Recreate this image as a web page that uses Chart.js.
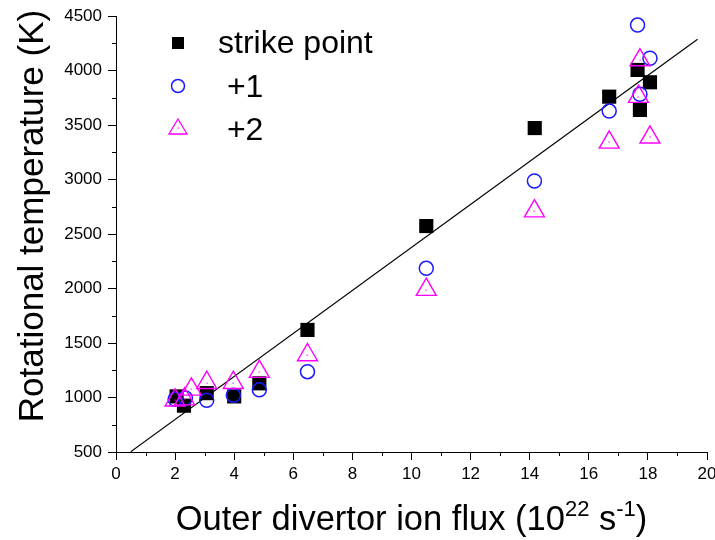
<!DOCTYPE html>
<html>
<head>
<meta charset="utf-8">
<script src="https://cdn.jsdelivr.net/npm/chart.js@4/dist/chart.umd.min.js"></script>
<style>
  html, body { margin: 0; padding: 0; background: #fff; }
  #wrap { width: 715px; height: 540px; }
</style>
</head>
<body>
<div id="wrap"><canvas id="fluxChart" width="715" height="540"></canvas></div>
<script>
// flux (10^22 s^-1) vs rotational temperature (K)
const strikeX = [2.05, 2.3, 3.07, 4.0, 4.85, 6.48, 10.5, 14.17, 16.69, 17.65, 17.73, 18.07];
const strikeY = [1010, 925, 1040, 1010, 1130, 1620, 2573, 3472, 3760, 4005, 3638, 3892];

const plus1X = [2.0, 2.35, 3.07, 3.97, 4.85, 6.48, 10.5, 14.16, 16.69, 17.65, 17.73, 18.07];
const plus1Y = [983, 995, 975, 1020, 1070, 1237, 2185, 2986, 3628, 4417, 3782, 4112];

const plus2X = [2.0, 2.32, 2.55, 3.07, 3.97, 4.85, 6.48, 10.5, 14.16, 16.69, 17.68, 17.73, 18.07];
const plus2Y = [975, 985, 1075, 1136, 1136, 1237, 1390, 1990, 2710, 3341, 3760, 4096, 3387];

// linear fit, end points
const fitX = [0.5, 19.68];
const fitY = [503, 4286];

const xTicks = [0, 2, 4, 6, 8, 10, 12, 14, 16, 18, 20];
const yTicks = [500, 1000, 1500, 2000, 2500, 3000, 3500, 4000, 4500];

const FONT = '"Liberation Sans", Arial, sans-serif';
const BLUE = '#1a1aff';
const MAGENTA = '#ff00ff';

const pts = (xs, ys) => xs.map((x, i) => ({ x: x, y: ys[i] }));

// minor ticks, axis titles, legend, triangle centre dots
const extras = {
    id: 'extras',
    afterDatasetsDraw(chart) {
        const ctx = chart.ctx;
        const meta = chart.getDatasetMeta(0);
        ctx.save();
        ctx.fillStyle = MAGENTA;
        meta.data.forEach(p => ctx.fillRect(Math.round(p.x) - 0.5, Math.round(p.y) - 0.5, 1.2, 1.2));
        ctx.restore();
    },
    afterDraw(chart) {
        const ctx = chart.ctx;
        const xs = chart.scales.x, ys = chart.scales.y;
        const area = chart.chartArea;
        ctx.save();
        ctx.strokeStyle = '#000';
        ctx.lineWidth = 1;
        ctx.beginPath();
        for (let v = 1; v < 20; v += 2) {
            const px = Math.round(xs.getPixelForValue(v)) + 0.5;
            ctx.moveTo(px, area.bottom);
            ctx.lineTo(px, area.bottom + 4);
        }
        for (let v = 750; v < 4500; v += 500) {
            const py = Math.round(ys.getPixelForValue(v)) + 0.5;
            ctx.moveTo(area.left, py);
            ctx.lineTo(area.left - 4, py);
        }
        ctx.stroke();

        ctx.fillStyle = '#000';

        // y title
        ctx.save();
        ctx.translate(43, 216);
        ctx.rotate(-Math.PI / 2);
        ctx.font = '35px ' + FONT;
        ctx.textAlign = 'center';
        ctx.textBaseline = 'alphabetic';
        ctx.fillText('Rotational temperature (K)', 0, 0);
        ctx.restore();

        // x title with superscripts
        const big = '34.5px ' + FONT, small = '22px ' + FONT;
        const parts = [
            ['Outer divertor ion flux (10', big, 0],
            ['22', small, -14],
            [' s', big, 0],
            ['-1', small, -14],
            [')', big, 0]
        ];
        let total = 0;
        parts.forEach(p => { ctx.font = p[1]; total += ctx.measureText(p[0]).width; });
        let cx = (area.left + area.right) / 2 - total / 2;
        ctx.textAlign = 'left';
        ctx.textBaseline = 'alphabetic';
        parts.forEach(p => {
            ctx.font = p[1];
            ctx.fillText(p[0], cx, 530 + p[2]);
            cx += ctx.measureText(p[0]).width;
        });

        // legend
        ctx.fillStyle = '#000';
        ctx.fillRect(172, 37, 12, 12);
        ctx.strokeStyle = BLUE;
        ctx.lineWidth = 1.5;
        ctx.beginPath();
        ctx.arc(178, 86, 6.5, 0, Math.PI * 2);
        ctx.stroke();
        ctx.strokeStyle = MAGENTA;
        ctx.lineWidth = 1.3;
        ctx.beginPath();
        ctx.moveTo(178, 119);
        ctx.lineTo(187, 134);
        ctx.lineTo(169, 134);
        ctx.closePath();
        ctx.stroke();
        ctx.fillStyle = MAGENTA;
        ctx.fillRect(177.5, 127.5, 1.2, 1.2);

        ctx.fillStyle = '#000';
        ctx.font = '32px ' + FONT;
        ctx.fillText('strike point', 218, 53);
        ctx.fillText(' +1', 218, 97);
        ctx.fillText(' +2', 218, 140);
        ctx.restore();
    }
};

new Chart(document.getElementById('fluxChart'), {
    type: 'scatter',
    data: {
        datasets: [
            {
                label: '+2',
                data: pts(plus2X, plus2Y),
                pointStyle: 'triangle',
                pointRadius: 11.5,
                pointBackgroundColor: 'rgba(0,0,0,0)',
                pointBorderColor: MAGENTA,
                pointBorderWidth: 1.4,
                order: 0
            },
            {
                label: '+1',
                data: pts(plus1X, plus1Y),
                pointStyle: 'circle',
                pointRadius: 7,
                pointBackgroundColor: 'rgba(0,0,0,0)',
                pointBorderColor: BLUE,
                pointBorderWidth: 1.5,
                order: 1
            },
            {
                label: 'strike point',
                data: pts(strikeX, strikeY),
                pointStyle: 'rect',
                pointRadius: 10,
                pointBackgroundColor: '#000',
                pointBorderWidth: 0,
                order: 2
            },
            {
                label: 'fit',
                data: pts(fitX, fitY),
                showLine: true,
                borderColor: '#000',
                borderWidth: 1.2,
                pointRadius: 0,
                order: 3
            }
        ]
    },
    options: {
        responsive: false,
        animation: false,
        devicePixelRatio: 1,
        layout: { autoPadding: false, padding: { top: 16, right: 8, left: 0, bottom: 0 } },
        plugins: { legend: { display: false }, tooltip: { enabled: false } },
        scales: {
            x: {
                type: 'linear',
                min: 0,
                max: 20,
                afterFit: s => { s.height = 88; s.paddingLeft = 0; s.paddingRight = 0; },
                afterBuildTicks: s => { s.ticks = xTicks.map(v => ({ value: v })); },
                ticks: { color: '#000', font: { family: FONT, size: 17 }, padding: 4, maxRotation: 0, autoSkip: false, callback: v => String(v) },
                grid: { drawOnChartArea: false, drawTicks: true, tickLength: 8, tickColor: '#000' },
                border: { color: '#000', width: 1 }
            },
            y: {
                type: 'linear',
                min: 500,
                max: 4500,
                afterFit: s => { s.width = 116; s.paddingTop = 0; s.paddingBottom = 0; },
                afterBuildTicks: s => { s.ticks = yTicks.map(v => ({ value: v })); },
                ticks: { color: '#000', font: { family: FONT, size: 17 }, padding: 6, autoSkip: false, callback: v => String(v) },
                grid: { drawOnChartArea: false, drawTicks: true, tickLength: 8, tickColor: '#000' },
                border: { color: '#000', width: 1 }
            }
        }
    },
    plugins: [extras]
});
</script>
</body>
</html>
